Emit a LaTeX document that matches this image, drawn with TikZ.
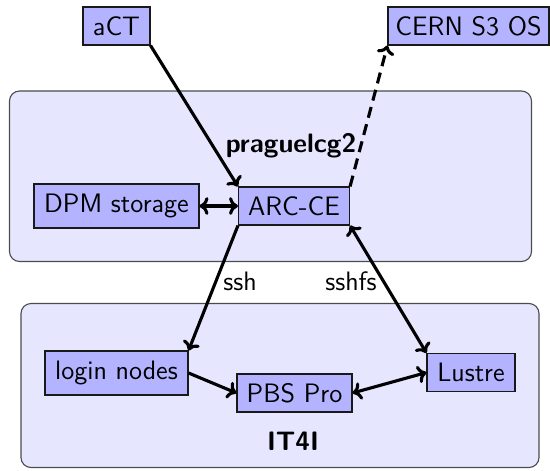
\documentclass[tikz,border=0pt]{standalone}
\usetikzlibrary{arrows.meta}
\definecolor{boxfill}{HTML}{B3B3FF}
\definecolor{grpfill}{HTML}{E6E6FF}
\begin{document}
\begin{tikzpicture}[x=0.45pt,y=-0.45pt,
  font=\sffamily\fontsize{12}{14}\selectfont,
  comp/.style={draw=black!90, fill=boxfill, inner sep=0pt, line width=0.5pt},
  grp/.style={draw=black!70, fill=grpfill, rounded corners=4.5pt, line width=0.5pt},
  conn/.style={line width=1.4pt, -{To[length=4pt,width=8pt]}},
  bconn/.style={line width=1.4pt, {To[length=4pt,width=8pt]}-{To[length=4pt,width=8pt]}},
  lbl/.style={inner sep=0pt},
  grplbl/.style={inner sep=0pt, font=\sffamily\bfseries\fontsize{12}{14}\selectfont}]
\useasboundingbox (0,0) rectangle (550,470);
% groups
\draw[grp] (9.5,91) rectangle (531.5,261.5);
\draw[grp] (21,303.5) rectangle (539,467.5);
\node[grplbl] (prague) at (291,146) {praguelcg2};
\node[grplbl] (it4i) at (293,441) {IT4I};
% components
\node[comp, minimum width=30.15pt, minimum height=17.1pt] (act) at (116.5,26) {aCT};
\node[comp, minimum width=72.45pt, minimum height=17.1pt] (cern) at (468.5,26) {CERN S3 OS};
\node[comp, minimum width=74.25pt, minimum height=19.8pt] (dpm) at (116.5,206) {DPM storage};
\node[comp, minimum width=49.95pt, minimum height=17.1pt] (arc) at (294,206) {ARC-CE};
\node[comp, minimum width=64.35pt, minimum height=19.8pt] (login) at (116.5,373) {login nodes};
\node[comp, minimum width=51.75pt, minimum height=17.1pt] (pbs) at (294.5,393) {PBS Pro};
\node[comp, minimum width=39.6pt, minimum height=17.1pt] (lustre) at (471,372.5) {Lustre};
% labels
\node[lbl] (ssh) at (240,281) {ssh};
\node[lbl] (sshfs) at (351,281) {sshfs};
% connectors
\draw[conn] (act.south east) -- (arc.north west);
\draw[conn, dashed, dash pattern=on 5pt off 3pt] (arc.north east) -- (cern.south west);
\draw[bconn] (dpm.east) -- (arc.west);
\draw[conn] (arc.south west) -- (login.north east);
\draw[bconn] (arc.south east) -- (lustre.north west);
\draw[conn] (login.east) -- (pbs.west);
\draw[bconn] (pbs.east) -- (lustre.west);
\end{tikzpicture}
\end{document}
